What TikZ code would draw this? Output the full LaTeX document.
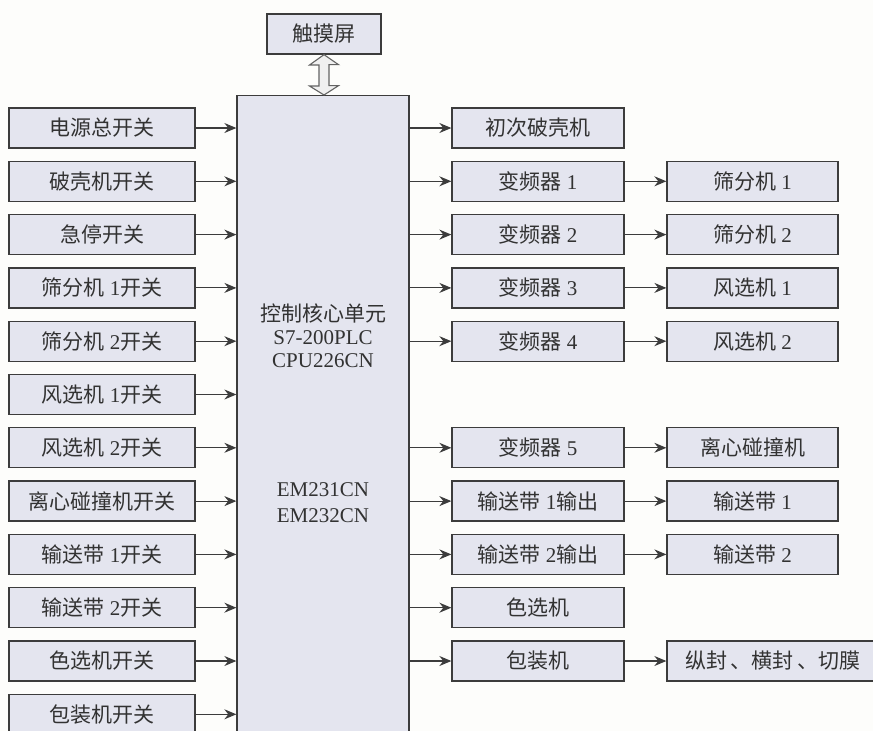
\documentclass[tikz,border=0pt]{standalone}
\usepackage{fontspec}
\setmainfont{Liberation Serif}
\newfontfamily\zh{Noto Sans CJK SC}
\usetikzlibrary{arrows.meta}
\newcommand{\Z}[1]{{\zh #1}}
\definecolor{boxfill}{RGB}{228,229,239}
\definecolor{boxline}{RGB}{60,60,60}
\definecolor{txt}{RGB}{50,50,50}
\definecolor{bgc}{RGB}{253,253,251}
\tikzset{
  box/.style={draw=boxline, line width=1.3pt, fill=boxfill, minimum height=40pt,
    inner sep=0pt, text=txt, font=\fontsize{21}{23}\selectfont},
  lbox/.style={box, minimum width=186pt},
  rbox/.style={box, minimum width=172pt},
  sbox/.style={box, minimum width=171pt},
  arr/.style={draw=boxline, line width=1.1pt, -{Stealth[length=12pt,width=10pt,inset=4pt]}},
  dblarrow/.style={draw=boxline!80, line width=1.1pt, fill=white!94!black},
  coretext/.style={text=txt, align=center, inner sep=0pt, font=\fontsize{21}{23}\selectfont}
}
\begin{document}
\begin{tikzpicture}[x=1pt, y=-1pt]
\useasboundingbox (0,0) rectangle (873,731);
\fill[bgc] (0,0) rectangle (873,731);
\clip (0,0) rectangle (873,731);

% central core box
\node[draw=boxline, line width=1.3pt, fill=boxfill, minimum width=172pt, minimum height=660pt,
      inner sep=0pt, anchor=north] (core) at (323,95) {};
\node[coretext] (ctxt1) at (323,336) {\Z{控制核心单元}\\S7-200PLC\\CPU226CN};
\node[coretext] (ctxt2) at (323,503) {EM231CN\\[3pt]EM232CN};

% touch screen
\node[box, minimum width=114pt] (touch) at (324,34) {\Z{触摸屏}};
\draw[dblarrow] (touch.south) -- ++(14.5,10) -- ++(-9.5,0) -- ++(0,21) -- ++(9.5,0)
  -- (touch.south |- core.north) -- ++(-14.5,-9) -- ++(9.5,0) -- ++(0,-21) -- ++(-9.5,0) -- cycle;

% left inputs
\node[lbox] (l1)  at (102,128)   {\Z{电源总开关}};
\node[lbox] (l2)  at (102,181.3) {\Z{破壳机开关}};
\node[lbox] (l3)  at (102,234.6) {\Z{急停开关}};
\node[lbox] (l4)  at (102,287.9) {\Z{筛分机} 1\Z{开关}};
\node[lbox] (l5)  at (102,341.2) {\Z{筛分机} 2\Z{开关}};
\node[lbox] (l6)  at (102,394.5) {\Z{风选机} 1\Z{开关}};
\node[lbox] (l7)  at (102,447.8) {\Z{风选机} 2\Z{开关}};
\node[lbox] (l8)  at (102,501.1) {\Z{离心碰撞机开关}};
\node[lbox] (l9)  at (102,554.4) {\Z{输送带} 1\Z{开关}};
\node[lbox] (l10) at (102,607.7) {\Z{输送带} 2\Z{开关}};
\node[lbox] (l11) at (102,661)   {\Z{色选机开关}};
\node[lbox] (l12) at (102,714.3) {\Z{包装机开关}};
\foreach \i in {1,...,12} { \draw[arr] (l\i.east) -- (l\i.east -| core.west); }

% right outputs, first column
\node[rbox] (r1)  at (538,128)   {\Z{初次破壳机}};
\node[rbox] (r2)  at (538,181.3) {\Z{变频器} 1};
\node[rbox] (r3)  at (538,234.6) {\Z{变频器} 2};
\node[rbox] (r4)  at (538,287.9) {\Z{变频器} 3};
\node[rbox] (r5)  at (538,341.2) {\Z{变频器} 4};
\node[rbox] (r6)  at (538,447.8) {\Z{变频器} 5};
\node[rbox] (r7)  at (538,501.1) {\Z{输送带} 1\Z{输出}};
\node[rbox] (r8)  at (538,554.4) {\Z{输送带} 2\Z{输出}};
\node[rbox] (r9)  at (538,607.7) {\Z{色选机}};
\node[rbox] (r10) at (538,661)   {\Z{包装机}};
\foreach \i in {1,...,10} { \draw[arr] (r\i.west -| core.east) -- (r\i.west); }

% right outputs, second column
\node[sbox] (s2)  at (752.5,181.3) {\Z{筛分机} 1};
\node[sbox] (s3)  at (752.5,234.6) {\Z{筛分机} 2};
\node[sbox] (s4)  at (752.5,287.9) {\Z{风选机} 1};
\node[sbox] (s5)  at (752.5,341.2) {\Z{风选机} 2};
\node[sbox] (s6)  at (752.5,447.8) {\Z{离心碰撞机}};
\node[sbox] (s7)  at (752.5,501.1) {\Z{输送带} 1};
\node[sbox] (s8)  at (752.5,554.4) {\Z{输送带} 2};
\node[box, minimum width=212pt] (s10) at (773,661) {\Z{纵封\hspace{4pt}、横封\hspace{4pt}、切膜}};
\foreach \i in {2,...,8,10} { \draw[arr] (r\i.east) -- (s\i.west); }
\end{tikzpicture}
\end{document}
